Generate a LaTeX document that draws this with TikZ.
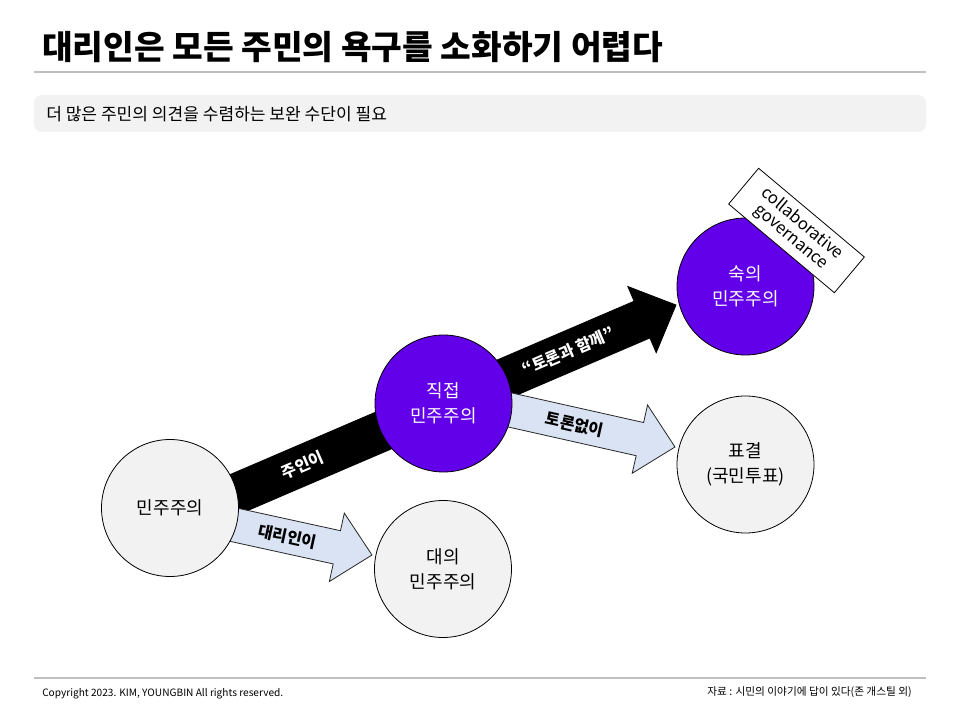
\documentclass[tikz,border=0pt]{standalone}
\usepackage{fontspec}
\setmainfont{Noto Sans CJK KR}
\usetikzlibrary{calc}
\definecolor{DeepViolet}{HTML}{6200EA}
\definecolor{LightGray}{HTML}{F2F2F2}
\definecolor{RuleGray}{HTML}{BFBFBF}
\definecolor{PaleBlue}{HTML}{DAE3F3}

% block arrow: style, tail, tip, half shaft, half head, head length
\newcommand{\blockarrow}[6]{%
  \coordinate (ba-h) at ($(#3)!#6!(#2)$);
  \draw[#1] ($(#2)!#4!90:(#3)$) -- ($(ba-h)!#4!90:(#3)$)
    -- ($(ba-h)!#5!90:(#3)$) -- (#3) -- ($(ba-h)!#5!-90:(#3)$)
    -- ($(ba-h)!#4!-90:(#3)$) -- ($(#2)!#4!-90:(#3)$) -- cycle;
}

\begin{document}
\begin{tikzpicture}[x=0.75pt, y=-0.75pt,
  circ/.style = {circle, draw=black, line width=0.6pt, fill=LightGray,
                 minimum size=102.75pt, inner sep=0pt, align=center,
                 font=\fontsize{13.5}{18.75}\selectfont},
  purp/.style = {circ, fill=DeepViolet, text=white},
  blk/.style  = {fill=black, draw=black, line width=0.6pt},
  blu/.style  = {fill=PaleBlue, draw=black!85, line width=0.6pt},
  lbl/.style  = {font=\fontsize{12}{14}\selectfont\bfseries, inner sep=0pt},
  rule/.style = {RuleGray, line width=0.8pt}
]
  \useasboundingbox (0,0) rectangle (960,720);

  % header
  \node[anchor=west, inner sep=0pt, font=\fontsize{25}{30}\selectfont\bfseries]
    (title) at (42,47) {대리인은 모든 주민의 욕구를 소화하기 어렵다};
  \draw[rule] (34,72) -- (926,72);
  \fill[LightGray, rounded corners=6pt] (34,95) rectangle (926,132);
  \node[anchor=west, inner sep=0pt, font=\fontsize{12.8}{15}\selectfont]
    (sub) at (46,114) {더 많은 주민의 의견을 수렴하는 보완 수단이 필요};

  % arrow ends
  \coordinate (tailA) at (175,520);
  \coordinate (tipA)  at (676,305);
  \coordinate (tailB) at (180,513);
  \coordinate (tipB)  at (372,555);
  \coordinate (tailC) at (450,396.5);
  \coordinate (tipC)  at (675,447);

  \blockarrow{blk}{tailA}{tipA}{15pt}{27pt}{27.75pt}
  \blockarrow{blu}{tailB}{tipB}{12.75pt}{26.25pt}{27pt}
  \blockarrow{blu}{tailC}{tipC}{12.75pt}{26.25pt}{27pt}

  \path (tailA) -- (tipA)
    node[lbl, text=white, sloped, pos=0.255] (owner) {주인이}
    node[lbl, text=white, sloped, pos=0.785] (talk) {“토론과 함께”};
  \path (tailB) -- (tipB)
    node[lbl, sloped, pos=0.56] (agent) {대리인이};
  \path (tailC) -- (tipC)
    node[lbl, sloped, pos=0.555] (notalk) {토론없이};

  % circles
  \node[circ] (demo)   at (170,508)     {민주주의};
  \node[circ] (repr)   at (443,569)     {대의\\민주주의};
  \node[purp] (direct) at (443.5,403.5) {직접\\민주주의};
  \node[circ] (vote)   at (745.5,464.5) {표결\\(국민투표)};
  \node[purp] (delib)  at (745.5,286.5) {숙의\\민주주의};

  \node[draw=black, fill=white, line width=0.6pt, rotate=-40, align=center,
        minimum width=103.5pt, minimum height=35pt, inner sep=0pt,
        font=\fontsize{12.5}{13}\selectfont]
    (collab) at (796.5,230.5) {collaborative\\governance};

  % footer
  \draw[rule] (34,678) -- (926,678);
  \node[anchor=west, inner sep=0pt, font=\fontsize{7.6}{9}\selectfont]
    (copy) at (42,694) {Copyright 2023. KIM, YOUNGBIN All rights reserved.};
  \node[anchor=east, inner sep=0pt, font=\fontsize{8}{9}\selectfont]
    (src) at (912,692) {자료 : 시민의 이야기에 답이 있다(존 개스틸 외)};
\end{tikzpicture}
\end{document}
